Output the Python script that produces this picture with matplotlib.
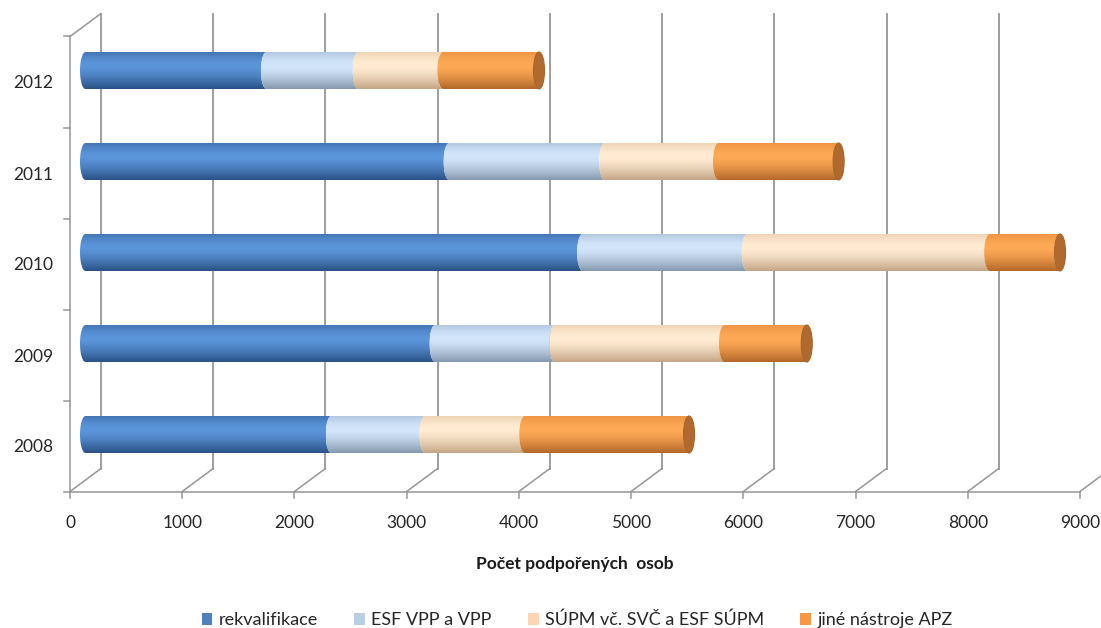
import numpy as np
import matplotlib
matplotlib.use("Agg")
import matplotlib.pyplot as plt
from matplotlib.path import Path
from matplotlib.patches import PathPatch, Ellipse, Patch
from matplotlib.colors import to_rgb

plt.rcParams['font.family'] = ['Lato', 'DejaVu Sans']

# ---------------- data ----------------
years = ['2008', '2009', '2010', '2011', '2012']
series_names = ['rekvalifikace', 'ESF VPP a VPP', 'SÚPM vč. SVČ a ESF SÚPM', 'jiné nástroje APZ']
rekvalifikace = [2190, 3115, 4430, 3240, 1612]
esf_vpp = [836, 1067, 1467, 1387, 818]
supm = [888, 1511, 2160, 1013, 756]
jine_apz = [1464, 734, 627, 1071, 855]
x_ticks = [0, 1000, 2000, 3000, 4000, 5000, 6000, 7000, 8000, 9000]
x_title = 'Počet podpořených  osob'

series = [rekvalifikace, esf_vpp, supm, jine_apz]
legend_colors = ['#4f81bd', '#b9cde5', '#fcd5b5', '#f79646']
# (top edge, highlight, bottom edge) for cylinder shading
shades = [
    ('#4576b4', '#5b95da', '#2a5184'),
    ('#b3c8e0', '#d2e5fb', '#8598ae'),
    ('#efd4b4', '#ffecd3', '#c4a585'),
    ('#ee9645', '#fda955', '#b3682a'),
]
cap_color = '#b06a30'

# ---------------- layout ----------------
W, H = 1101, 628
PX = 1010 / 9000.0          # pixels per value unit
X0 = 85.5                   # pixel of value 0 at mid depth
PY = 91.0                   # pixels per category
Y0 = 434.5                  # pixel of first category at mid depth
DX = 15.5 / PX              # half depth offset (value units)
DY = 11.5 / PY              # half depth offset (category units)

fig = plt.figure(figsize=(W / 100, H / 100), dpi=100)
ax = fig.add_axes([0, 0, 1, 1])
ax.axis('off')
xlim = (-X0 / PX, (W - X0) / PX)
ylim = ((Y0 - H) / PY, Y0 / PY)

grid_c = '#969696'
txt_c = '#262626'
vmax = x_ticks[-1]
ncat = len(years)
y_lo, y_hi = -0.5, ncat - 0.5

# left wall
ax.plot([-DX, -DX], [y_lo - DY, y_hi - DY], color=grid_c, lw=1.1)
ax.plot([-DX, DX], [y_hi - DY, y_hi + DY], color=grid_c, lw=1.1)
# floor front edge
ax.plot([-DX, vmax - DX], [y_lo - DY, y_lo - DY], color=grid_c, lw=1.1)
# gridlines
for v in x_ticks:
    ax.plot([v - DX, v + DX], [y_lo - DY, y_lo + DY], color=grid_c, lw=1.1)
    ax.plot([v + DX, v + DX], [y_lo + DY, y_hi + DY], color=grid_c, lw=1.3)
    ax.plot([v - DX, v - DX], [y_lo - DY, y_lo - DY - 6 / PY], color=grid_c, lw=1.1)
    ax.text(v - DX, y_lo - DY - 32 / PY, str(v), ha='center', va='center',
            fontsize=12.5, color=txt_c)
# category ticks
for k in range(ncat + 1):
    yk = y_lo + k - DY
    ax.plot([-DX, -DX - 6 / PX], [yk, yk], color=grid_c, lw=1.1)

for i, yr in enumerate(years):
    ax.text(-DX - 17 / PX, i - DY - 1.5 / PY, yr, ha='right', va='center',
            fontsize=12.5, color=txt_c)

ax.text((vmax / 2) - DX, y_lo - DY - 73 / PY, x_title, ha='center', va='center',
        fontsize=12.5, fontweight='bold', color='#1a1a1a')

# ---------------- bars ----------------
h = 18.5 / PY
rx = 5.5 / PX
th = np.linspace(0, np.pi, 40)


def profile(top, mid, bot, n=80):
    t = np.linspace(0, 1, n)
    c0, c1, c2 = (np.array(to_rgb(c)) for c in (top, mid, bot))
    out = np.zeros((n, 1, 3))
    for j, tt in enumerate(t):
        if tt < 0.38:
            f = tt / 0.38
            f = np.sin(f * np.pi / 2)
            out[j, 0] = c0 * (1 - f) + c1 * f
        else:
            f = (tt - 0.38) / 0.62
            f = f ** 1.4
            out[j, 0] = c1 * (1 - f) + c2 * f
    return out


for i in range(ncat):
    left = 0.0
    for s, vals in enumerate(series):
        a = left
        b = left + vals[i]
        left = b
        yc = i
        # boundary curve at b (top -> bottom), then at a (bottom -> top)
        xb = b - rx * np.sin(th)
        yb = yc + h * np.cos(th)
        xa = a - rx * np.sin(th[::-1])
        ya = yc + h * np.cos(th[::-1])
        verts = np.concatenate([np.column_stack([xb, yb]), np.column_stack([xa, ya]),
                                [[b, yc + h]]])
        codes = [Path.MOVETO] + [Path.LINETO] * (len(verts) - 2) + [Path.CLOSEPOLY]
        patch = PathPatch(Path(verts, codes), facecolor='none', edgecolor='none')
        ax.add_patch(patch)
        im = ax.imshow(profile(*shades[s]), extent=(a - rx, b, yc - h, yc + h),
                       origin='upper', aspect='auto', interpolation='bilinear', zorder=2)
        im.set_clip_path(patch)
    # end cap
    ax.add_patch(Ellipse((left, i), 2 * rx, 2 * h, facecolor=cap_color,
                         edgecolor='#a86428', lw=0.8, zorder=3))

ax.set_xlim(*xlim)
ax.set_ylim(*ylim)

handles = [Patch(facecolor=c, edgecolor='none') for c in legend_colors]
fig.legend(handles, series_names, loc='center', bbox_to_anchor=(577 / W, 1 - 620 / H),
           ncol=4, frameon=False, fontsize=13, handlelength=0.6, handleheight=0.6,
           handletextpad=0.35, columnspacing=2.0, labelcolor=txt_c)

fig.savefig('out.png', dpi=100)
